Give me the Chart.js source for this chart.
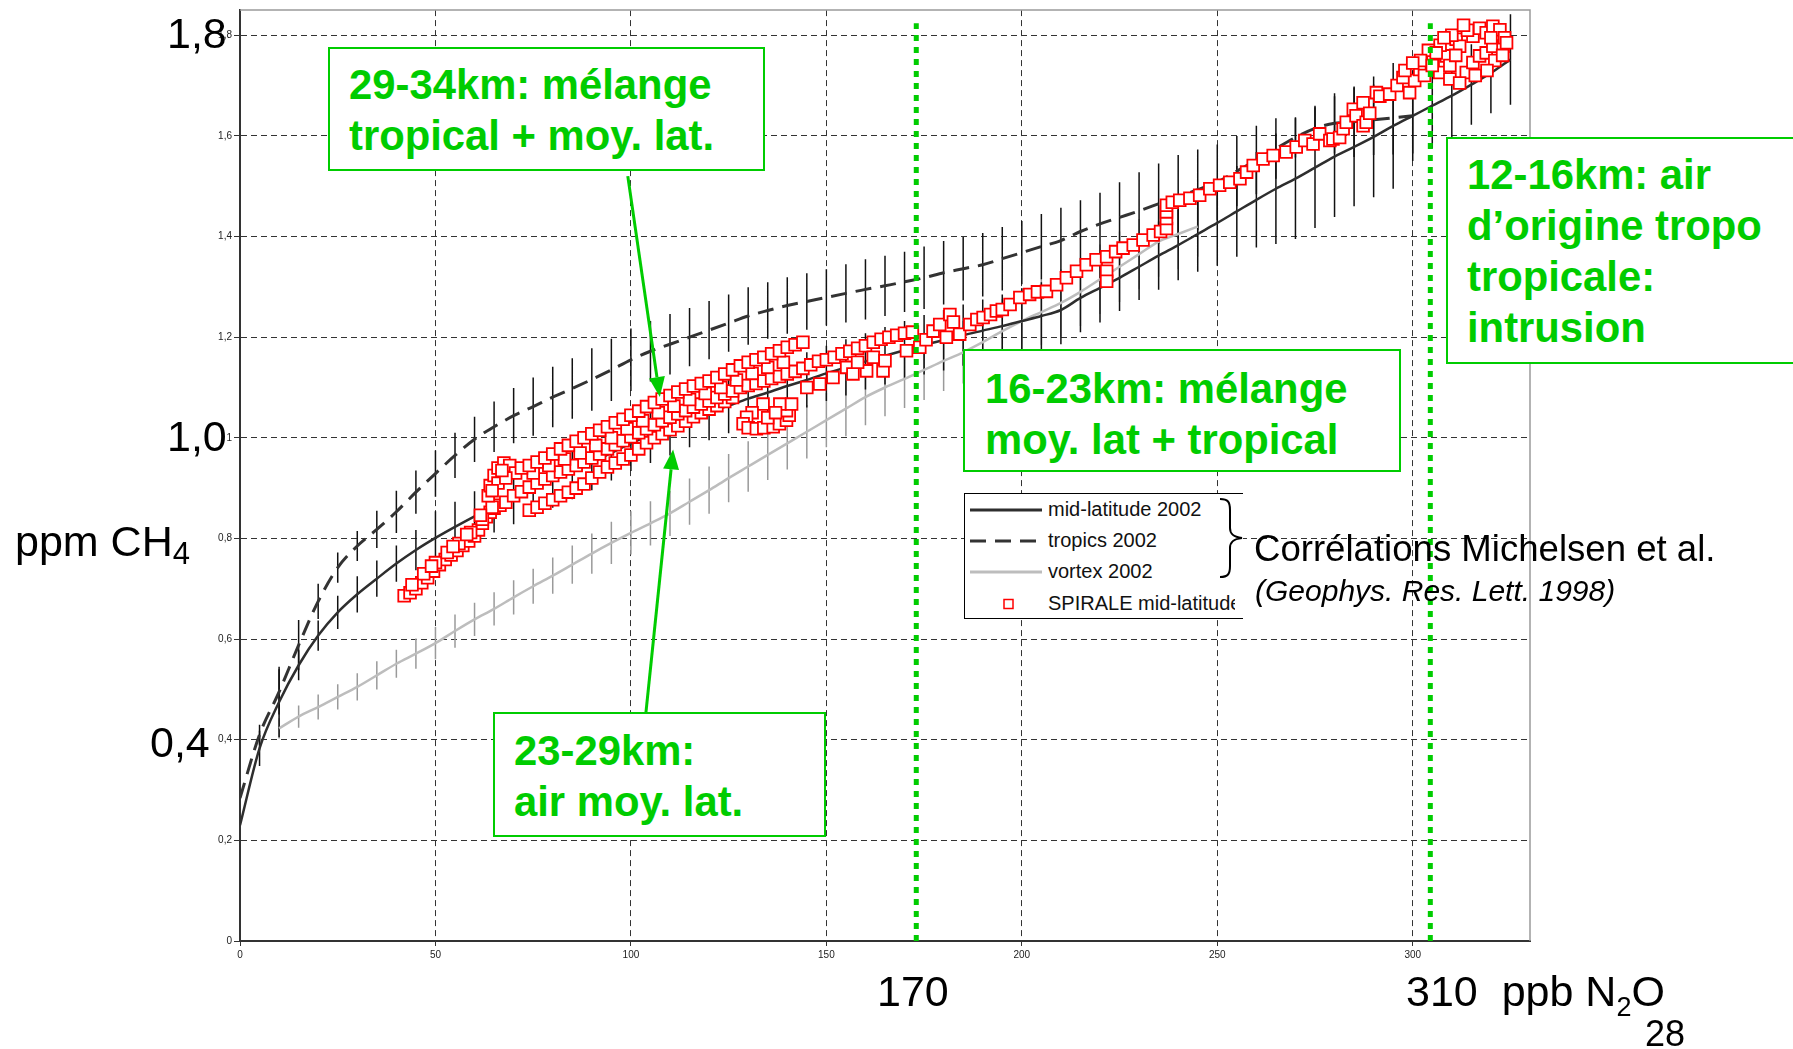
<!DOCTYPE html>
<html lang="fr">
<head>
<meta charset="utf-8">
<title>CH4 / N2O</title>
<script src="https://cdn.jsdelivr.net/npm/chart.js@4.4.1/dist/chart.umd.min.js"></script>
<style>
  body { margin: 0; background: #fff; }
  #wrap { position: relative; width: 1793px; height: 1049px; overflow: hidden; font-family: "Liberation Sans", Arial, sans-serif; }
  #chart { position: absolute; left: 0; top: 0; }
  .big { position: absolute; font-size: 43px; line-height: 1; color: #000; white-space: nowrap; }
  .big .sub { position: relative; vertical-align: baseline; }
  .note { position: absolute; box-sizing: border-box; border: 2px solid #00cc00; background: #fff; color: #00cc00;
          font-weight: bold; font-size: 41.8px; line-height: 51px; white-space: nowrap; overflow: hidden; }
  #legend { position: absolute; left: 964px; top: 493px; width: 279px; height: 126px; box-sizing: border-box;
            border: 1px solid #000; border-right: none; background: #fff; overflow: hidden; font-size: 20px; color: #111; }
  #legend .row { position: absolute; left: 0; width: 270px; height: 30px; overflow: hidden; }
  #legend svg { position: absolute; left: 5px; top: 9px; }
  #legend span { position: absolute; left: 83px; top: 3px; white-space: nowrap; }
  #brace { position: absolute; left: 1218px; top: 496px; }
</style>
</head>
<body>
<div id="wrap">
  <canvas id="chart" width="1793" height="1049"></canvas>

  <div class="big" style="left:167px;top:12px">1,8</div>
  <div class="big" style="left:167px;top:415px">1,0</div>
  <div class="big" style="left:150px;top:721px">0,4</div>
  <div class="big" style="left:15px;top:520px">ppm CH<span class="sub" style="font-size:31px;top:8px">4</span></div>
  <div class="big" style="left:877px;top:970px">170</div>
  <div class="big" style="left:1406px;top:970px">310&nbsp;&nbsp;ppb N<span class="sub" style="font-size:27px;top:10px">2</span>O</div>
  <div class="big" style="left:1645px;top:1016px;font-size:36px">28</div>

  <div class="note" style="left:328px;top:47px;width:437px;height:124px;padding:10px 0 0 19px">29-34km: mélange<br>tropical + moy. lat.</div>
  <div class="note" style="left:1446px;top:137px;width:370px;height:227px;padding:10px 0 0 19px">12-16km: air<br>d’origine tropo<br>tropicale:<br>intrusion</div>
  <div class="note" style="left:963px;top:349px;width:438px;height:123px;padding:12px 0 0 20px">16-23km: mélange<br>moy. lat + tropical</div>
  <div class="note" style="left:493px;top:712px;width:333px;height:125px;padding:11px 0 0 19px">23-29km:<br>air moy. lat.</div>

  <div id="legend"></div>
  <svg id="brace" width="32" height="84">
    <path d="M2,3 C10,3 12,6 12,14 L12,32 C12,38 15,41 24,42 C15,43 12,46 12,52 L12,70 C12,78 10,81 2,81"
          fill="none" stroke="#000" stroke-width="2"/>
  </svg>
  <div class="big" style="left:1254px;top:531px;font-size:36.6px">Corrélations Michelsen et al.</div>
  <div class="big" style="left:1255px;top:576px;font-size:30px;font-style:italic">(Geophys. Res. Lett. 1998)</div>
</div>

<script>
// Corrélations Michelsen et al. (CH4 en fonction de N2O), tous les 5 ppb
const midN2O = [0,5,10,15,20,25,30,35,40,45,50,55,60,65,70,75,80,85,90,95,100,105,110,115,120,125,130,135,140,145,150,
  155,160,165,170,175,180,185,190,195,200,205,210,215,220,225,230,235,240,245,250,255,260,265,270,275,280,285,290,295,300,
  305,310,315,320,325];
const midCH4 = [0.230,0.383,0.475,0.548,0.607,0.653,0.689,0.720,0.750,0.777,0.801,0.823,0.844,0.864,0.882,0.899,0.916,
  0.933,0.951,0.970,0.989,1.005,1.020,1.036,1.050,1.064,1.078,1.090,1.103,1.115,1.128,1.140,1.152,1.163,1.174,1.185,1.194,
  1.204,1.213,1.222,1.232,1.242,1.254,1.278,1.298,1.318,1.340,1.362,1.383,1.405,1.427,1.450,1.473,1.495,1.515,1.537,1.559,
  1.578,1.598,1.620,1.640,1.660,1.680,1.702,1.725,1.752];
const midErr = [0,0.035,0.07,0.03,0.03,0.033,0.036,0.036,0.036,0.04,0.053,0.05,0.05,0.052,0.054,
  0.055,0.055,0.055,0.055,0.055,0.055,0.055,0.055,0.055,0.055,0.055,0.055,0.055,0.055,0.055,0.055,
  0.056,0.056,0.057,0.058,0.059,0.06,0.061,0.062,0.063,0.065,0.067,0.068,0.068,0.069,0.066,0.066,0.068,0.07,0.075,
  0.085,0.09,0.095,0.11,0.12,0.12,0.12,0.118,0.12,0.125,0.09,0.085,0.085,0.08,0.08,0.09];

const tropN2O = [0,5,10,15,20,25,30,35,40,45,50,55,60,65,70,75,80,85,90,95,100,105,110,115,120,125,130,135,140,145,150,
  155,160,165,170,175,180,185,190,195,200,205,210,215,220,225,230,235,240,245,250,255,260,265,270,275,280,285,290,295,300];
const tropCH4 = [0.284,0.410,0.495,0.588,0.675,0.742,0.785,0.818,0.853,0.892,0.929,0.965,0.997,1.022,1.044,1.062,1.081,
  1.098,1.116,1.135,1.155,1.172,1.186,1.200,1.214,1.228,1.242,1.253,1.263,1.271,1.279,1.287,1.295,1.302,1.310,1.318,1.328,
  1.336,1.344,1.356,1.368,1.380,1.392,1.410,1.425,1.438,1.451,1.465,1.479,1.493,1.508,1.530,1.552,1.575,1.597,1.615,1.625,
  1.628,1.632,1.636,1.640];
const tropErr = [0,0.02,0.045,0.05,0.035,0.03,0.03,0.037,0.042,0.043,0.046,0.045,0.045,0.05,0.055,0.058,0.06,0.06,0.062,
  0.062,0.062,0.06,0.06,0.058,0.058,0.057,0.057,0.056,0.056,0.056,0.056,0.058,0.06,0.06,0.06,0.062,0.063,0.063,0.063,0.063,
  0.063,0.065,0.065,0.062,0.062,0.07,0.077,0.08,0.083,0.08,0.075,0.07,0.068,0.06,0.04,0.045,0.06,0.07,0.07,0.073,0.075];

const vortN2O = [10,15,20,25,30,35,40,45,50,55,60,65,70,75,80,85,90,95,100,105,110,115,120,125,130,135,140,145,150,155,
  160,165,170,175,180,185,190,195,200,205,210,215,220,225,230,235,240,245];
const vortCH4 = [0.4225,0.446,0.465,0.485,0.505,0.528,0.551,0.571,0.592,0.616,0.639,0.660,0.683,0.705,0.726,0.748,0.770,
  0.791,0.811,0.830,0.850,0.873,0.896,0.920,0.943,0.966,0.989,1.012,1.035,1.058,1.081,1.100,1.117,1.135,1.153,1.170,1.190,
  1.212,1.232,1.250,1.268,1.290,1.315,1.340,1.365,1.390,1.405,1.420];
const vortErr = [0.02,0.022,0.025,0.025,0.027,0.028,0.028,0.03,0.032,0.033,0.033,0.033,0.034,0.035,0.036,0.038,0.04,0.042,
  0.043,0.044,0.045,0.046,0.047,0.048,0.05,0.05,0.052,0.053,0.054,0.055,0.056,0.057,0.058,0.06,0.06,0.062,0.063,0.064,
  0.065,0.066,0.067,0.068,0.069,0.07,0.07,0.07,0.07,0.06];

// Mesures SPIRALE (par tronçon du profil)
const spA_N2O = [42,43.5,45,46.5,48,49.5,51,52.5,54,55.5,57,58.5,60,61,62,63,64,65,66.5,68,47,50,53,56,59,62,64.5,
  44,49,54.5,58,61.5];
const spA_CH4 = [0.686,0.692,0.700,0.712,0.722,0.735,0.748,0.758,0.767,0.776,0.786,0.795,0.805,0.817,0.830,0.843,0.852,
  0.860,0.866,0.872,0.730,0.752,0.772,0.790,0.812,0.838,0.862,0.708,0.745,0.784,0.808,0.846];
const spBlob_N2O = [63.5,64,65,66,67.5,69,70.5,66,68,64.5,67];
const spBlob_CH4 = [0.885,0.905,0.925,0.940,0.950,0.945,0.930,0.910,0.920,0.895,0.935];
const spTop_N2O = [72,74,76,78,80,82,84,86,88,90,92,94,96,98,100,102,104,106,108,110,112,114,116,118,120,122,124,126,128,
  130,132,134,136,138,140,142,144];
const spTop_CH4 = [0.940,0.945,0.952,0.960,0.968,0.978,0.985,0.993,1.000,1.008,1.015,1.022,1.030,1.037,1.045,1.053,1.062,
  1.070,1.077,1.084,1.091,1.097,1.103,1.108,1.113,1.120,1.127,1.135,1.143,1.150,1.155,1.160,1.167,1.173,1.180,1.185,1.190];
const spFill_N2O = [75,79,83,87,91,95,99,103,107,111,115,119,123,127,131,135,139];
const spFill_CH4 = [0.930,0.945,0.958,0.970,0.985,1.000,1.018,1.034,1.050,1.063,1.076,1.088,1.100,1.115,1.128,1.140,1.150];
const spMid_N2O = [70,72,74,76,78,80,82,84,86,88,90,92,94,96,98,100,102,104,106,108,110,112,114,116,118,120,122,124,126,
  128,130,132,134,136,138,140,142,144,146,148,150,152,154,156,158,160,162,164,166,168,170,172];
const spMid_CH4 = [0.885,0.893,0.902,0.910,0.918,0.925,0.932,0.938,0.945,0.952,0.960,0.968,0.978,0.986,0.994,1.002,1.010,
  1.018,1.026,1.034,1.041,1.048,1.054,1.061,1.067,1.073,1.080,1.087,1.093,1.100,1.104,1.108,1.113,1.118,1.122,1.127,1.132,
  1.138,1.145,1.152,1.155,1.160,1.167,1.172,1.178,1.183,1.190,1.196,1.200,1.204,1.208,1.210];
const spLow_N2O = [74,76,78,80,82,84,86,88,90,92,94,96,98,100,102,104,106,108,110,112,114,116,118,120,122,124,126];
const spLow_CH4 = [0.856,0.862,0.870,0.877,0.885,0.892,0.900,0.908,0.920,0.932,0.942,0.950,0.958,0.966,0.978,0.990,1.000,
  1.008,1.016,1.024,1.033,1.042,1.050,1.057,1.064,1.072,1.080];
const spLoop_N2O = [133.8,131,129.6,128.7,130,132.1,134,136.4,138,139.8,140.5,139.8,138.1,141.1,135,137];
const spLoop_CH4 = [1.067,1.050,1.041,1.028,1.020,1.018,1.020,1.022,1.028,1.035,1.045,1.054,1.067,1.067,1.040,1.050];
const spKnee_N2O = [145,148.3,151.7,155.2,156.8,160.3,162,164.5,165,158];
const spKnee_CH4 = [1.100,1.107,1.120,1.140,1.127,1.133,1.160,1.133,1.153,1.150];
const spUp_N2O = [170.5,173.9,175.5,177.3,179,181.6,180.7,182.5,184.1,186.7,188.5,190.1,192,193.5,195,197,199.5,202,204,
  206.3,208.9,211.4,214,216.5,219,221.7,221.7,221.7,224,225.9,228.5,231,233.6,235.5,237,237,237,237,238.5,240.4,243,245.5,
  248.1,250.6,253.2,255.8,257.5,259.2,261.7,264.3,267.6,270.2];
const spUp_CH4 = [1.173,1.180,1.195,1.212,1.225,1.245,1.200,1.230,1.206,1.225,1.235,1.239,1.245,1.252,1.255,1.265,1.279,
  1.285,1.290,1.291,1.304,1.318,1.331,1.344,1.354,1.360,1.331,1.311,1.370,1.377,1.383,1.393,1.403,1.410,1.416,1.436,1.449,
  1.462,1.468,1.472,1.476,1.482,1.495,1.502,1.508,1.515,1.528,1.541,1.554,1.561,1.568,1.578];
const spTropo_N2O = [272.4,274.5,276.2,278.8,279.6,281.3,282.2,283,284.8,285.5,287.3,287.3,288.1,289,290.7,291.6,294.1,296,
  297.5,299.2,300.5,301.8,303,305.2,306.9,308.6,309.5,309.5,311.1,312,313.7,315.4,315.4,317.1,317.1,318.8,318.8,320.5,320.5,
  322.3,323.1,323.5,321,312,316,319,323,307,304,302,310,314,298,300,305,308,313,320,324,311,306];
const spTropo_CH4 = [1.591,1.584,1.604,1.591,1.594,1.597,1.614,1.627,1.653,1.640,1.666,1.620,1.627,1.645,1.686,1.679,1.683,
  1.700,1.716,1.686,1.710,1.732,1.720,1.752,1.726,1.759,1.713,1.740,1.792,1.778,1.726,1.798,1.746,1.759,1.814,1.805,1.765,
  1.778,1.818,1.811,1.778,1.795,1.750,1.705,1.720,1.730,1.760,1.780,1.770,1.750,1.800,1.810,1.730,1.745,1.740,1.795,1.820,
  1.795,1.785,1.760,1.765];

// lignes vertes 170 / 310 et flèches
const markN2O = [173, 304.5];
const markTop = 1.824;
const arrowFrom = [[99.2, 1.52], [103.8, 0.451]];
const arrowTo = [[107.4, 1.081], [110.8, 0.977]];

const GREEN = '#00cc00';
const FONT = '"Liberation Sans", Arial, sans-serif';
Chart.defaults.font.family = FONT;

function pts(xs, ys) {
  return xs.map((x, i) => ({ x: x, y: ys[i] }));
}

const spirale = [].concat(
  pts(spA_N2O, spA_CH4), pts(spBlob_N2O, spBlob_CH4), pts(spLow_N2O, spLow_CH4),
  pts(spMid_N2O, spMid_CH4), pts(spFill_N2O, spFill_CH4), pts(spTop_N2O, spTop_CH4),
  pts(spLoop_N2O, spLoop_CH4), pts(spKnee_N2O, spKnee_CH4), pts(spUp_N2O, spUp_CH4),
  pts(spTropo_N2O, spTropo_CH4)
);

const curves = [
  { n2o: midN2O, ch4: midCH4, err: midErr, color: '#111' },
  { n2o: tropN2O, ch4: tropCH4, err: tropErr, color: '#111' },
  { n2o: vortN2O, ch4: vortCH4, err: vortErr, color: '#9a9a9a' }
];

// barres d'erreur + cadre gris
const errorBars = {
  id: 'errorBars',
  beforeDatasetsDraw(chart) {
    const { ctx, chartArea: a, scales: { x, y } } = chart;
    ctx.save();
    ctx.strokeStyle = '#9a9a9a';
    ctx.lineWidth = 1.5;
    ctx.beginPath();
    ctx.moveTo(a.left, a.top);
    ctx.lineTo(a.right, a.top);
    ctx.lineTo(a.right, a.bottom);
    ctx.stroke();
    curves.slice().reverse().forEach(c => {
      ctx.strokeStyle = c.color;
      ctx.beginPath();
      c.n2o.forEach((v, i) => {
        const e = c.err[i];
        if (!e) return;
        const px = x.getPixelForValue(v);
        ctx.moveTo(px, y.getPixelForValue(c.ch4[i] - e));
        ctx.lineTo(px, y.getPixelForValue(c.ch4[i] + e));
      });
      ctx.stroke();
    });
    ctx.restore();
  }
};

// flèches vertes
const arrows = {
  id: 'arrows',
  afterDraw(chart) {
    const { ctx, scales: { x, y } } = chart;
    ctx.save();
    ctx.strokeStyle = GREEN;
    ctx.fillStyle = GREEN;
    ctx.lineWidth = 3;
    arrowFrom.forEach((f, i) => {
      const x1 = x.getPixelForValue(f[0]), y1 = y.getPixelForValue(f[1]);
      const x2 = x.getPixelForValue(arrowTo[i][0]), y2 = y.getPixelForValue(arrowTo[i][1]);
      const ang = Math.atan2(y2 - y1, x2 - x1);
      const len = 20, half = 8;
      const bx = x2 - len * Math.cos(ang), by = y2 - len * Math.sin(ang);
      ctx.beginPath();
      ctx.moveTo(x1, y1);
      ctx.lineTo(bx, by);
      ctx.stroke();
      ctx.beginPath();
      ctx.moveTo(x2, y2);
      ctx.lineTo(bx + half * Math.sin(ang), by - half * Math.cos(ang));
      ctx.lineTo(bx - half * Math.sin(ang), by + half * Math.cos(ang));
      ctx.closePath();
      ctx.fill();
    });
    ctx.restore();
  }
};

const chart = new Chart(document.getElementById('chart'), {
  type: 'scatter',
  data: {
    datasets: [
      {
        data: [{ x: markN2O[0], y: 0 }, { x: markN2O[0], y: markTop }],
        showLine: true, borderColor: GREEN, borderWidth: 5, borderDash: [6, 6], borderCapStyle: 'butt',
        pointRadius: 0, order: 0
      },
      {
        data: [{ x: markN2O[1], y: 0 }, { x: markN2O[1], y: markTop }],
        showLine: true, borderColor: GREEN, borderWidth: 5, borderDash: [6, 6], borderCapStyle: 'butt',
        pointRadius: 0, order: 0
      },
      {
        label: 'SPIRALE mid-latitude', data: spirale, legendRow: 3,
        pointStyle: 'rect', pointRadius: 8.3, borderWidth: 1.8, borderColor: '#ff0000', backgroundColor: '#ffffff',
        showLine: false, order: 1
      },
      {
        label: 'mid-latitude 2002', data: pts(midN2O, midCH4), legendRow: 0,
        showLine: true, borderColor: '#2e2e2e', borderWidth: 2.5, pointRadius: 0, order: 2,
        cubicInterpolationMode: 'monotone'
      },
      {
        label: 'tropics 2002', data: pts(tropN2O, tropCH4), legendRow: 1,
        showLine: true, borderColor: '#333333', borderWidth: 3, borderDash: [16, 9], pointRadius: 0, order: 3,
        cubicInterpolationMode: 'monotone'
      },
      {
        label: 'vortex 2002', data: pts(vortN2O, vortCH4), legendRow: 2,
        showLine: true, borderColor: '#bdbdbd', borderWidth: 2.5, pointRadius: 0, order: 4,
        cubicInterpolationMode: 'monotone'
      }
    ]
  },
  options: {
    responsive: false,
    animation: false,
    devicePixelRatio: 1,
    layout: { padding: { left: 0, right: 263, top: 6, bottom: 0 } },
    plugins: { legend: { display: false }, tooltip: { enabled: false } },
    scales: {
      x: {
        type: 'linear', min: 0, max: 330,
        afterBuildTicks: s => { s.ticks = s.ticks.filter(t => t.value % 50 === 0); },
        afterFit: s => { s.height = 108; },
        ticks: { stepSize: 50, autoSkip: false, maxRotation: 0, padding: 3, color: '#222', font: { size: 10 } },
        grid: { color: '#333', lineWidth: 1, tickLength: 5, tickColor: '#333', tickBorderDash: [] },
        border: { display: true, color: '#333', width: 2, dash: [6, 4] }
      },
      y: {
        type: 'linear', min: 0, max: 1.85,
        afterBuildTicks: s => {
          s.ticks = s.ticks.filter(t => Math.abs(t.value / 0.2 - Math.round(t.value / 0.2)) < 1e-6);
        },
        afterFit: s => { s.width = 240; },
        ticks: {
          stepSize: 0.2, autoSkip: false, padding: 2, color: '#222', font: { size: 10 },
          callback: v => String(+v.toFixed(1)).replace('.', ',')
        },
        grid: { color: '#333', lineWidth: 1, tickLength: 6, tickColor: '#333', tickBorderDash: [] },
        border: { display: true, color: '#333', width: 2, dash: [6, 4] }
      }
    }
  },
  plugins: [errorBars, arrows]
});

// légende maison (boîte coupée à droite comme l'original)
const legend = document.getElementById('legend');
const rowCenters = [16, 47, 78, 110];
chart.data.datasets.filter(d => d.legendRow !== undefined).forEach(d => {
  const row = document.createElement('div');
  row.className = 'row';
  row.style.top = (rowCenters[d.legendRow] - 15) + 'px';
  let sample;
  if (d.showLine) {
    const dash = d.borderDash ? d.borderDash.join(',') : 'none';
    sample = '<svg width="72" height="12"><line x1="0" y1="6" x2="72" y2="6" stroke="' + d.borderColor +
      '" stroke-width="3" stroke-dasharray="' + dash + '"/></svg>';
  } else {
    sample = '<svg width="72" height="12"><rect x="34" y="1.5" width="9" height="9" fill="#fff" stroke="' +
      d.borderColor + '" stroke-width="1.5"/></svg>';
  }
  row.innerHTML = sample + '<span>' + d.label + '</span>';
  legend.appendChild(row);
});
</script>
</body>
</html>
